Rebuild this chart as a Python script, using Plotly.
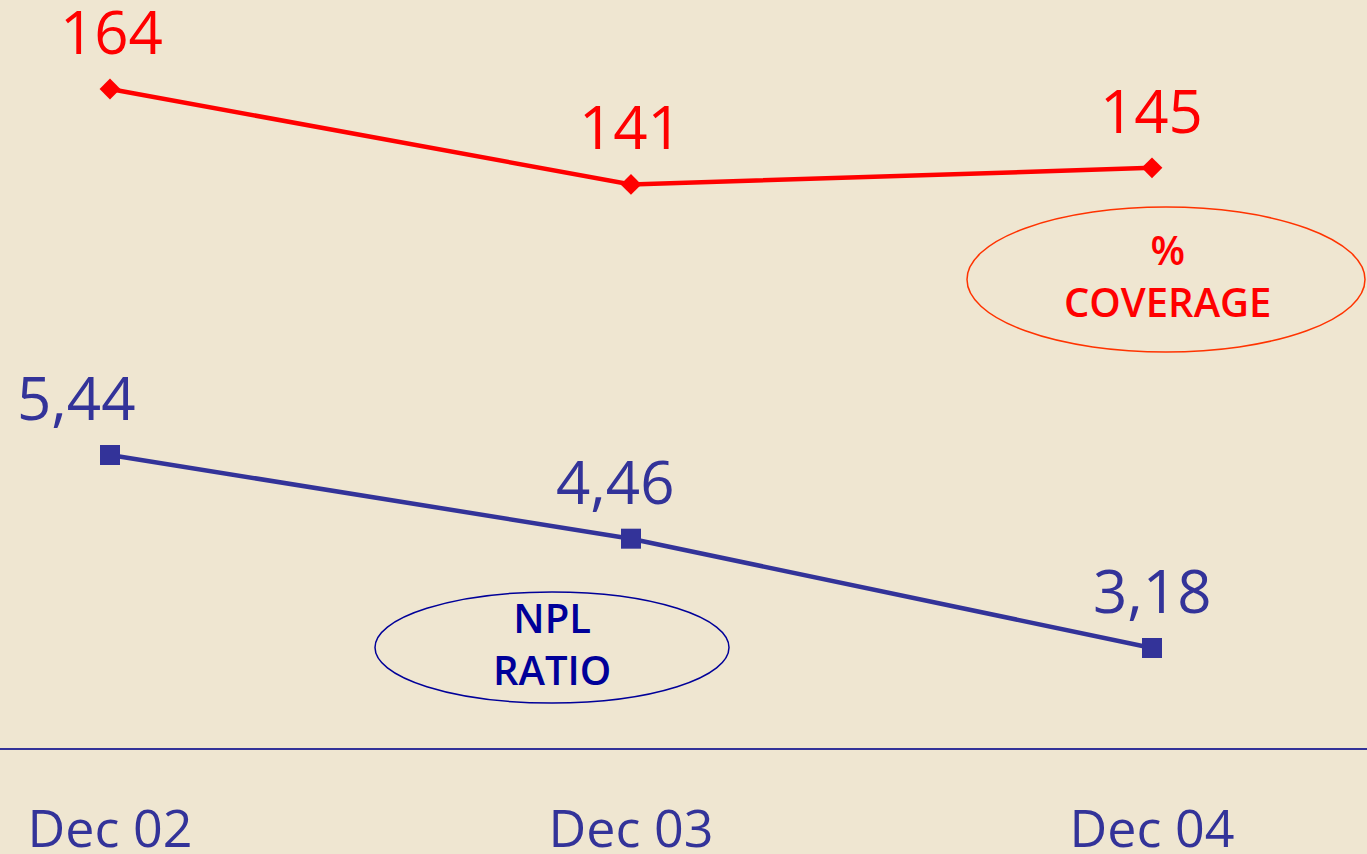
import plotly.graph_objects as go

# Periods on the horizontal axis
periods = ["Dec 02", "Dec 03", "Dec 04"]

# % coverage of non-performing loans
coverage = [164, 141, 145]

# NPL ratio (%)
npl_ratio = [5.44, 4.46, 3.18]

BG = "#EFE6D1"
RED = "#FF0000"
BLUE = "#333399"
NAVY = "#000099"
FONT = "Open Sans"

W, H = 1367, 854
MB = 106  # space below the baseline for the period labels
PH = H - MB


def fmt(v, dec):
    s = f"{v:.{dec}f}"
    return s.replace(".", ",")


def px_x(p):
    return p / W


def px_y(p):
    return 1 - p / PH


fig = go.Figure()

fig.add_trace(go.Scatter(
    x=periods, y=coverage, yaxis="y2", mode="lines+markers",
    line=dict(color=RED, width=4.5),
    marker=dict(symbol="diamond", size=16, color=RED),
    hoverinfo="skip", showlegend=False,
))

fig.add_trace(go.Scatter(
    x=periods, y=npl_ratio, yaxis="y", mode="lines+markers",
    line=dict(color=BLUE, width=4.5),
    marker=dict(symbol="square", size=20, color=BLUE),
    hoverinfo="skip", showlegend=False,
))

# value labels above the markers
red_dx = [2, 0, 0]
blue_dx = [-34, -16, 0]
for i, p in enumerate(periods):
    fig.add_annotation(x=p, y=coverage[i], yref="y2", text=fmt(coverage[i], 0),
                       showarrow=False, yanchor="bottom", xanchor="center",
                       xshift=red_dx[i], yshift=15,
                       font=dict(family=FONT, size=60, color=RED, weight=500))
    fig.add_annotation(x=p, y=npl_ratio[i], yref="y", text=fmt(npl_ratio[i], 2),
                       showarrow=False, yanchor="bottom", xanchor="center",
                       xshift=blue_dx[i], yshift=15,
                       font=dict(family=FONT, size=60, color=BLUE, weight=500))

# series captions inside ellipses
fig.add_shape(type="circle", xref="paper", yref="paper",
              x0=px_x(967), x1=px_x(1365), y0=px_y(352), y1=px_y(207),
              line=dict(color="#FF3300", width=1.5), fillcolor="rgba(0,0,0,0)")
fig.add_annotation(xref="paper", yref="paper", x=px_x(1167), y=px_y(275),
                   text="%<br>COVERAGE", showarrow=False,
                   xanchor="center", yanchor="middle",
                   font=dict(family=FONT, size=40, color=RED, weight=600))

fig.add_shape(type="circle", xref="paper", yref="paper",
              x0=px_x(375), x1=px_x(729), y0=px_y(703), y1=px_y(592),
              line=dict(color=NAVY, width=1.5), fillcolor="rgba(0,0,0,0)")
fig.add_annotation(xref="paper", yref="paper", x=px_x(552), y=px_y(643),
                   text="NPL<br>RATIO", showarrow=False,
                   xanchor="center", yanchor="middle",
                   font=dict(family=FONT, size=40, color=NAVY, weight=600))

fig.update_layout(
    width=W, height=H,
    margin=dict(l=0, r=0, t=0, b=MB, pad=0, autoexpand=False),
    paper_bgcolor=BG, plot_bgcolor=BG,
    xaxis=dict(
        type="category", range=[-0.2111, 2.4127],
        showgrid=False, zeroline=False, automargin=False,
        showline=True, linecolor=BLUE, linewidth=2,
        ticks="outside", ticklen=35, tickcolor=BG,
        tickfont=dict(family=FONT, size=52, color=BLUE, weight=500),
    ),
    yaxis=dict(range=[2.009, 10.768], visible=False, showgrid=False,
               zeroline=False, automargin=False),
    yaxis2=dict(range=[5.2, 185.45], visible=False, showgrid=False, zeroline=False,
                overlaying="y", side="right", automargin=False),
    font=dict(family=FONT),
)

fig.write_html("out.html", config={"displayModeBar": False})
